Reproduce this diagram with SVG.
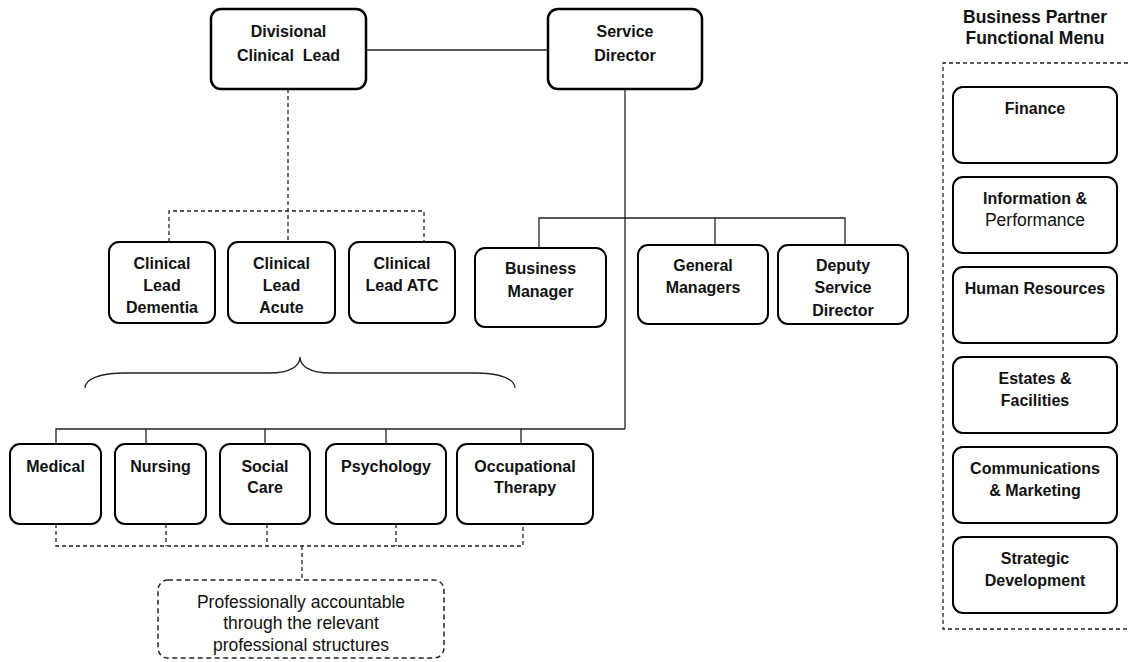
<svg xmlns="http://www.w3.org/2000/svg" width="1130" height="662" viewBox="0 0 1130 662">
<style>
.box{fill:#fff;stroke:#000;stroke-width:2}
.top{fill:#fff;stroke:#000;stroke-width:2.5}
.ln{fill:none;stroke:#222;stroke-width:1.3}
.dl{fill:none;stroke:#222;stroke-width:1.3;stroke-dasharray:4 3}
.db{fill:#fff;stroke:#222;stroke-width:1.5;stroke-dasharray:5 3.5}
text{font-family:"Liberation Sans",Arial,sans-serif;fill:#111;text-anchor:middle}
.b{font-weight:bold;font-size:16px}
.r{font-size:17.5px}
.t{font-weight:bold;font-size:17.5px}
</style>
<rect width="1130" height="662" fill="#fff"/>
<g id="connectors">
<line class="ln" x1="366" y1="50" x2="548" y2="50"/>
<line class="ln" x1="625" y1="89" x2="625" y2="429"/>
<polyline class="ln" points="539,248 539,218 845,218 845,245"/>
<line class="ln" x1="715" y1="218" x2="715" y2="245"/>
<polyline class="ln" points="56,444 56,429 625,429"/>
<line class="ln" x1="146" y1="429" x2="146" y2="444"/>
<line class="ln" x1="265" y1="429" x2="265" y2="444"/>
<line class="ln" x1="386" y1="429" x2="386" y2="444"/>
<line class="ln" x1="521" y1="429" x2="521" y2="444"/>
<line class="dl" x1="288" y1="89" x2="288" y2="242"/>
<polyline class="dl" points="169,242 169,211 424,211 424,242"/>
<polyline class="dl" points="56,524 56,546 523,546 523,524"/>
<line class="dl" x1="166" y1="524" x2="166" y2="546"/>
<line class="dl" x1="267" y1="524" x2="267" y2="546"/>
<line class="dl" x1="396" y1="524" x2="396" y2="546"/>
<line class="dl" x1="302" y1="546" x2="302" y2="580"/>
<path class="ln" d="M85,388 C85,379 100,373 125,373 L270,373 C290,373 300,366 300,357 C300,366 310,373 330,373 L475,373 C500,373 515,379 515,388"/>
</g>
<g id="divisional-clinical-lead"><rect class="top" x="211" y="9" width="155" height="80" rx="10"/><text class="b" x="288.5" y="37">Divisional</text><text class="b" x="288.5" y="61" xml:space="preserve">Clinical  Lead</text></g>
<g id="service-director"><rect class="top" x="548" y="9" width="154" height="80" rx="10"/><text class="b" x="625" y="37">Service</text><text class="b" x="625" y="61">Director</text></g>
<g id="clinical-lead-dementia"><rect class="box" x="109" y="242" width="106" height="81" rx="10"/><text class="b" x="162" y="269">Clinical</text><text class="b" x="162" y="291">Lead</text><text class="b" x="162" y="313">Dementia</text></g>
<g id="clinical-lead-acute"><rect class="box" x="228" y="242" width="107" height="81" rx="10"/><text class="b" x="281.5" y="269">Clinical</text><text class="b" x="281.5" y="291">Lead</text><text class="b" x="281.5" y="313">Acute</text></g>
<g id="clinical-lead-atc"><rect class="box" x="349" y="242" width="106" height="81" rx="10"/><text class="b" x="402" y="269">Clinical</text><text class="b" x="402" y="291">Lead ATC</text></g>
<g id="business-manager"><rect class="box" x="475" y="248" width="131" height="79" rx="10"/><text class="b" x="540.5" y="274">Business</text><text class="b" x="540.5" y="297">Manager</text></g>
<g id="general-managers"><rect class="box" x="638" y="245" width="130" height="79" rx="10"/><text class="b" x="703" y="271">General</text><text class="b" x="703" y="293">Managers</text></g>
<g id="deputy-service-director"><rect class="box" x="778" y="245" width="130" height="79" rx="10"/><text class="b" x="843" y="271">Deputy</text><text class="b" x="843" y="293">Service</text><text class="b" x="843" y="316">Director</text></g>
<g id="medical"><rect class="box" x="10" y="444" width="91" height="80" rx="10"/><text class="b" x="55.5" y="472">Medical</text></g>
<g id="nursing"><rect class="box" x="115" y="444" width="91" height="80" rx="10"/><text class="b" x="160.5" y="472">Nursing</text></g>
<g id="social-care"><rect class="box" x="220" y="444" width="90" height="80" rx="10"/><text class="b" x="265" y="472">Social</text><text class="b" x="265" y="493">Care</text></g>
<g id="psychology"><rect class="box" x="326" y="444" width="120" height="80" rx="10"/><text class="b" x="386" y="472">Psychology</text></g>
<g id="occupational-therapy"><rect class="box" x="457" y="444" width="136" height="80" rx="10"/><text class="b" x="525" y="472">Occupational</text><text class="b" x="525" y="493">Therapy</text></g>
<g id="professional-structures"><rect class="db" x="158" y="580" width="286" height="78" rx="10"/><text class="r" x="301" y="608">Professionally accountable</text><text class="r" x="301" y="629">through the relevant</text><text class="r" x="301" y="651">professional structures</text></g>
<g id="business-partner-menu">
<text class="t" x="1035" y="23">Business Partner</text><text class="t" x="1035" y="44">Functional Menu</text>
<path class="dl" d="M1135,63 H943 V629 H1135"/>
</g>
<g id="finance"><rect class="box" x="953" y="87" width="164" height="76" rx="10"/><text class="b" x="1035" y="114">Finance</text></g>
<g id="information-performance"><rect class="box" x="953" y="177" width="164" height="76" rx="10"/><text class="b" x="1035" y="204">Information &amp;</text><text class="r" x="1035" y="226">Performance</text></g>
<g id="human-resources"><rect class="box" x="953" y="267" width="164" height="76" rx="10"/><text class="b" x="1035" y="294">Human Resources</text></g>
<g id="estates-facilities"><rect class="box" x="953" y="357" width="164" height="76" rx="10"/><text class="b" x="1035" y="384">Estates &amp;</text><text class="b" x="1035" y="406">Facilities</text></g>
<g id="communications-marketing"><rect class="box" x="953" y="447" width="164" height="76" rx="10"/><text class="b" x="1035" y="474">Communications</text><text class="b" x="1035" y="496">&amp; Marketing</text></g>
<g id="strategic-development"><rect class="box" x="953" y="537" width="164" height="76" rx="10"/><text class="b" x="1035" y="564">Strategic</text><text class="b" x="1035" y="586">Development</text></g>
</svg>
